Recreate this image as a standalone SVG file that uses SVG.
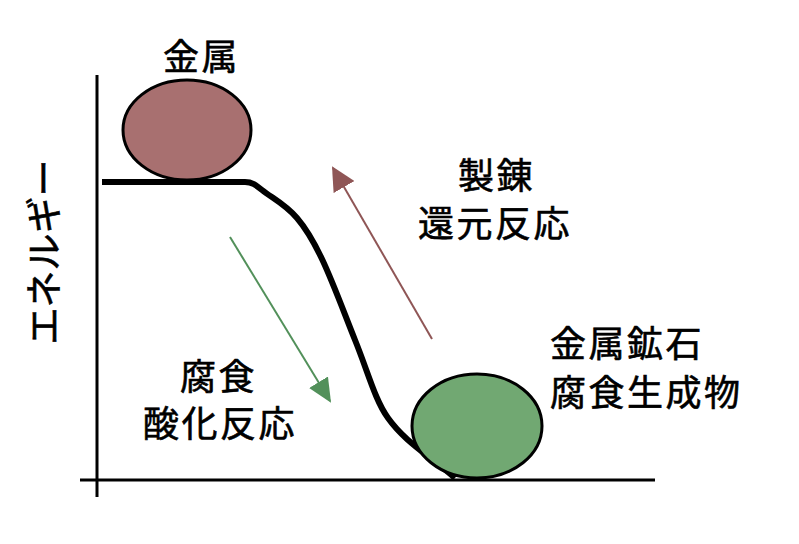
<svg xmlns="http://www.w3.org/2000/svg" width="799" height="544" viewBox="0 0 799 544">
<style>
.t{font-family:"Noto Sans CJK JP","Noto Sans CJK SC",sans-serif;font-size:36px;fill:#000;stroke:#000;stroke-width:0.6px;letter-spacing:2.5px}
.ax{stroke:#000;stroke-width:3;fill:none}
.ball{stroke:#000;stroke-width:3}
</style>
<defs>
<marker id="ahR" markerUnits="userSpaceOnUse" viewBox="0 0 24 24" refX="22" refY="12" markerWidth="24" markerHeight="24" orient="auto">
<path d="M0,0 L24,12 L0,24 z" fill="#8f5656"/>
</marker>
<marker id="ahG" markerUnits="userSpaceOnUse" viewBox="0 0 24 22" refX="22" refY="11" markerWidth="24" markerHeight="22" orient="auto">
<path d="M0,0 L24,11 L0,22 z" fill="#52905a"/>
</marker>
</defs>
<rect width="799" height="544" fill="#fff"/>
<g id="axes">
<line class="ax" x1="97" y1="75" x2="97" y2="497"/>
<line class="ax" x1="80" y1="480" x2="655" y2="480"/>
</g>
<g id="ylabel">
<text class="t" style="letter-spacing:0;font-size:37px" text-anchor="middle" transform="translate(58,252) rotate(-90)">エネルギー</text>
</g>
<g id="connectors">
<path d="M102,182 L245,182 C252,182 256,185 262,190 C272,198 285,204 297,218 C320,245 335,290 355,340 C368,372 375,400 388,418 C405,442 430,456 455,478" fill="none" stroke="#000" stroke-width="6" stroke-linejoin="round"/>
<line x1="432" y1="339" x2="333" y2="168" stroke="#8f5656" stroke-width="2" marker-end="url(#ahR)"/>
<line x1="230" y1="237" x2="330" y2="401" stroke="#52905a" stroke-width="2" marker-end="url(#ahG)"/>
</g>
<g id="metal">
<ellipse class="ball" cx="187" cy="130" rx="64" ry="50" fill="#a87070"/>
<text class="t" x="163" y="70">金属</text>
</g>
<g id="ore">
<ellipse class="ball" cx="477" cy="426" rx="65" ry="52" fill="#71a872"/>
<text class="t" x="550" y="357">金属鉱石</text>
<text class="t" x="550" y="406">腐食生成物</text>
</g>
<g id="reduction">
<text class="t" x="458" y="189">製錬</text>
<text class="t" x="418" y="237">還元反応</text>
</g>
<g id="corrosion">
<text class="t" x="180" y="390">腐食</text>
<text class="t" x="143" y="437">酸化反応</text>
</g>
</svg>
